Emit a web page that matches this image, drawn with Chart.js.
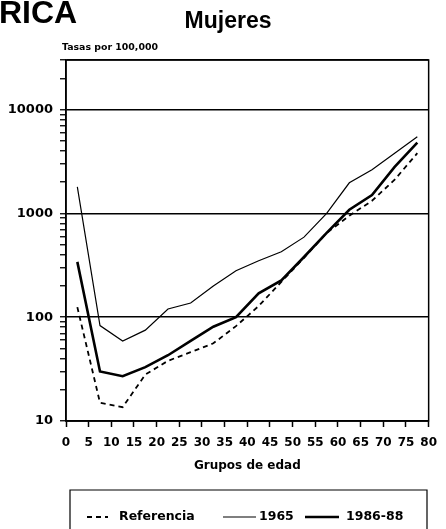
<!DOCTYPE html>
<html>
<head>
<meta charset="utf-8">
<script src="https://cdn.jsdelivr.net/npm/chart.js@4.4.1/dist/chart.umd.min.js"></script>
<style>
  html, body { margin: 0; padding: 0; background: #fff; }
  #wrap { width: 446px; height: 529px; position: relative; }
</style>
</head>
<body>
<div id="wrap"><canvas id="chart"></canvas></div>
<script>
// ---------- data ----------
const AGE_GROUPS = [2.5, 7.5, 12.5, 17.5, 22.5, 27.5, 32.5, 37.5, 42.5, 47.5, 52.5, 57.5, 62.5, 67.5, 72.5, 77.5];
const REFERENCIA = [125, 15, 13.6, 28, 38, 46, 56, 82, 128, 219, 373, 647, 948, 1323, 2109, 3800];
const RATES_1965 = [1800, 83, 59, 75, 120, 137, 200, 280, 350, 427, 590, 1000, 1970, 2630, 3800, 5480];
const RATES_1986_88 = [341, 30, 27, 33, 43, 59, 81, 100, 170, 226, 380, 650, 1084, 1500, 2800, 4800];

const X_TICKS = [0, 5, 10, 15, 20, 25, 30, 35, 40, 45, 50, 55, 60, 65, 70, 75, 80];
const Y_DECADES = [10, 100, 1000, 10000];
const Y_MINOR = [2, 3, 4, 5, 6, 7, 8, 9];
const Y_MIN = 10;
const Y_MAX = 30000;

// tick values for the log axis: decades plus 2..9 in between
const yTickValues = [];
for (const d of Y_DECADES) {
  yTickValues.push(d);
  for (const m of Y_MINOR) {
    if (m * d <= Y_MAX) yTickValues.push(m * d);
  }
}

function points(values) {
  return AGE_GROUPS.map((x, i) => ({ x, y: values[i] }));
}

const BOLD = "bold";
const FAMILY = "'DejaVu Sans', sans-serif";

// ---------- page furniture: frame, headings, boxed legend ----------
const paperPlugin = {
  id: "paper",
  afterDraw(chart) {
    const { ctx, chartArea: a } = chart;
    ctx.save();

    // frame round the plot
    ctx.strokeStyle = "#000";
    ctx.lineWidth = 1.5;
    ctx.strokeRect(a.left, a.top, a.right - a.left, a.bottom - a.top);

    // headings
    ctx.fillStyle = "#000";
    ctx.textBaseline = "alphabetic";
    ctx.font = "bold 32px 'Liberation Sans', sans-serif";
    ctx.textAlign = "left";
    ctx.fillText("RICA", -1, 23);

    ctx.font = "bold 23px 'Liberation Sans', sans-serif";
    ctx.textAlign = "center";
    ctx.fillText("Mujeres", 228, 28);

    ctx.font = "bold 9.4px " + FAMILY;
    ctx.textAlign = "left";
    ctx.fillText("Tasas por 100,000", 62, 50);

    // legend box (runs off the bottom of the page)
    ctx.lineWidth = 1.2;
    ctx.beginPath();
    ctx.moveTo(70, 540);
    ctx.lineTo(70, 490);
    ctx.lineTo(427, 490);
    ctx.lineTo(427, 540);
    ctx.stroke();

    const legendY = 517;
    const slots = [
      { x0: 87, x1: 108, tx: 119 },
      { x0: 223, x1: 256, tx: 259 },
      { x0: 305, x1: 339, tx: 346 },
    ];
    ctx.font = "bold 12.5px " + FAMILY;
    ctx.textBaseline = "middle";
    chart.data.datasets.forEach((ds, i) => {
      const s = slots[i];
      ctx.beginPath();
      ctx.setLineDash(ds.borderDash || []);
      ctx.lineWidth = ds.borderWidth;
      ctx.moveTo(s.x0, legendY);
      ctx.lineTo(s.x1, legendY);
      ctx.stroke();
      ctx.setLineDash([]);
      ctx.fillText(ds.label, s.tx, legendY);
    });

    ctx.restore();
  },
};

// ---------- chart ----------
function buildChart() {
  const ctx = document.getElementById("chart").getContext("2d");

  return new Chart(ctx, {
    type: "line",
    data: {
      datasets: [
        {
          label: "Referencia",
          data: points(REFERENCIA),
          borderColor: "#000",
          borderWidth: 1.8,
          borderDash: [5, 4],
          pointRadius: 0,
          tension: 0,
        },
        {
          label: "1965",
          data: points(RATES_1965),
          borderColor: "#000",
          borderWidth: 1.2,
          pointRadius: 0,
          tension: 0,
        },
        {
          label: "1986-88",
          data: points(RATES_1986_88),
          borderColor: "#000",
          borderWidth: 2.6,
          pointRadius: 0,
          tension: 0,
        },
      ],
    },
    options: {
      responsive: true,
      maintainAspectRatio: false,
      animation: false,
      layout: { padding: { left: 0, right: 13, top: 60, bottom: 56 } },
      plugins: {
        legend: { display: false },
        tooltip: { enabled: false },
      },
      scales: {
        x: {
          type: "linear",
          min: 0,
          max: 80,
          afterBuildTicks: (scale) => {
            scale.ticks = X_TICKS.map((v) => ({ value: v }));
          },
          afterFit: (scale) => {
            scale.height = 52;
          },
          border: { color: "#000", width: 1.5 },
          grid: {
            drawOnChartArea: false,
            tickLength: 6,
            tickColor: "#000",
            tickWidth: 1.5,
          },
          ticks: {
            autoSkip: false,
            maxRotation: 0,
            padding: 9,
            color: "#000",
            font: { family: FAMILY, size: 12, weight: BOLD },
          },
          title: {
            display: true,
            text: "Grupos de edad",
            color: "#000",
            padding: { top: 6, bottom: 0 },
            font: { family: FAMILY, size: 12, weight: BOLD },
          },
        },
        y: {
          type: "logarithmic",
          min: Y_MIN,
          max: Y_MAX,
          afterBuildTicks: (scale) => {
            scale.ticks = yTickValues.map((v) => ({ value: v }));
          },
          afterFit: (scale) => {
            scale.width = 66;
          },
          border: { color: "#000", width: 1.5 },
          grid: {
            color: (c) =>
              c.tick && (Y_DECADES.includes(c.tick.value) || c.tick.value === Y_MAX)
                ? "#000"
                : "rgba(0,0,0,0)",
            lineWidth: 1.5,
            tickLength: 6,
            tickColor: "#000",
            tickWidth: 1.3,
          },
          ticks: {
            autoSkip: false,
            padding: 7,
            color: "#000",
            font: { family: FAMILY, size: 13, weight: BOLD },
            callback: (v) => (Y_DECADES.includes(v) ? String(v) : ""),
          },
        },
      },
    },
    plugins: [paperPlugin],
  });
}

window.addEventListener("DOMContentLoaded", () => {
  buildChart();
});
</script>
</body>
</html>
